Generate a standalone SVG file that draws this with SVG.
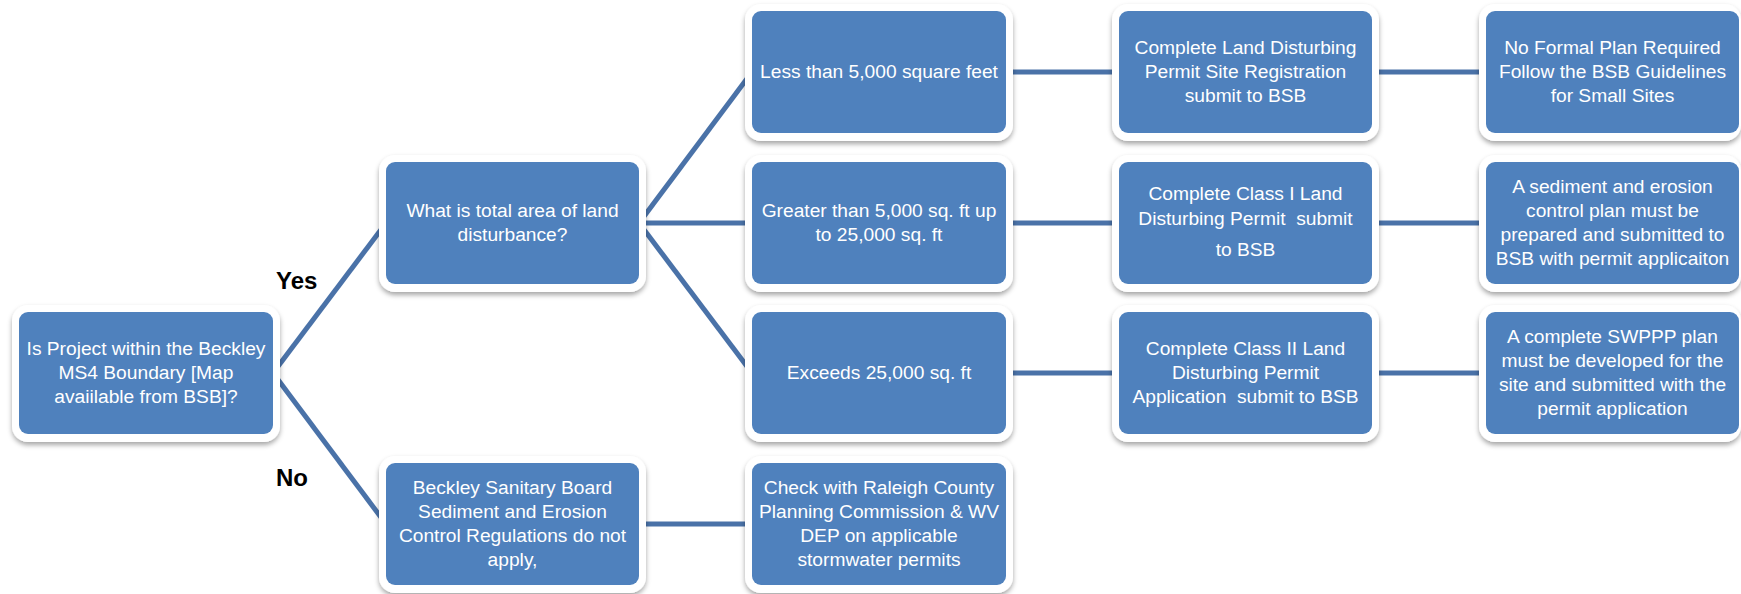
<svg xmlns="http://www.w3.org/2000/svg" width="1741" height="594" viewBox="0 0 1741 594">
<defs>
<filter id="sh" x="-10%" y="-15%" width="120%" height="135%">
<feDropShadow dx="0" dy="3" stdDeviation="2.5" flood-color="#000" flood-opacity="0.35"/>
</filter>
<style>
.frame{fill:#fff;filter:url(#sh);}
.box{fill:#4F81BD;}
.t{font-family:"Liberation Sans",Arial,sans-serif;font-size:19.2px;fill:#fff;text-anchor:middle;white-space:pre;}
.lbl{font-family:"Liberation Sans",Arial,sans-serif;font-size:24px;font-weight:bold;fill:#000;}
.c{stroke:#4A72A8;stroke-width:5;fill:none;}
</style>
</defs>
<rect width="1741" height="594" fill="#fff"/>
<g id="connectors">
<line class="c" x1="273" y1="373" x2="386" y2="223"/>
<line class="c" x1="273" y1="373" x2="386" y2="524"/>
<line class="c" x1="639" y1="223" x2="752" y2="72"/>
<line class="c" x1="639" y1="223" x2="752" y2="223"/>
<line class="c" x1="639" y1="223" x2="752" y2="373"/>
<line class="c" x1="1006" y1="72" x2="1119" y2="72"/>
<line class="c" x1="1372" y1="72" x2="1486" y2="72"/>
<line class="c" x1="1006" y1="223" x2="1119" y2="223"/>
<line class="c" x1="1372" y1="223" x2="1486" y2="223"/>
<line class="c" x1="1006" y1="373" x2="1119" y2="373"/>
<line class="c" x1="1372" y1="373" x2="1486" y2="373"/>
<line class="c" x1="639" y1="524" x2="752" y2="524"/>
</g>
<g id="labels">
<text class="lbl" x="276" y="289">Yes</text>
<text class="lbl" x="276" y="486">No</text>
</g>
<g id="n-start">
<rect class="frame" x="12" y="305" width="268" height="137" rx="16"/>
<rect class="box" x="19" y="312" width="254" height="122" rx="9"/>
<text class="t" x="146" y="355">Is Project within the Beckley</text>
<text class="t" x="146" y="379">MS4 Boundary [Map</text>
<text class="t" x="146" y="403">avaiilable from BSB]?</text>
</g>
<g id="n-area">
<rect class="frame" x="379" y="155" width="267" height="137" rx="16"/>
<rect class="box" x="386" y="162" width="253" height="122" rx="9"/>
<text class="t" x="512.5" y="217">What is total area of land</text>
<text class="t" x="512.5" y="241">disturbance?</text>
</g>
<g id="n-bsb-no">
<rect class="frame" x="379" y="456" width="267" height="137" rx="16"/>
<rect class="box" x="386" y="463" width="253" height="122" rx="9"/>
<text class="t" x="512.5" y="494">Beckley Sanitary Board</text>
<text class="t" x="512.5" y="518">Sediment and Erosion</text>
<text class="t" x="512.5" y="542">Control Regulations do not</text>
<text class="t" x="512.5" y="566">apply,</text>
</g>
<g id="n-less">
<rect class="frame" x="745" y="4" width="268" height="137" rx="16"/>
<rect class="box" x="752" y="11" width="254" height="122" rx="9"/>
<text class="t" x="879" y="78">Less than 5,000 square feet</text>
</g>
<g id="n-greater">
<rect class="frame" x="745" y="155" width="268" height="137" rx="16"/>
<rect class="box" x="752" y="162" width="254" height="122" rx="9"/>
<text class="t" x="879" y="217">Greater than 5,000 sq. ft up</text>
<text class="t" x="879" y="241">to 25,000 sq. ft</text>
</g>
<g id="n-exceeds">
<rect class="frame" x="745" y="305" width="268" height="137" rx="16"/>
<rect class="box" x="752" y="312" width="254" height="122" rx="9"/>
<text class="t" x="879" y="379">Exceeds 25,000 sq. ft</text>
</g>
<g id="n-check">
<rect class="frame" x="745" y="456" width="268" height="137" rx="16"/>
<rect class="box" x="752" y="463" width="254" height="122" rx="9"/>
<text class="t" x="879" y="494">Check with Raleigh County</text>
<text class="t" x="879" y="518">Planning Commission &amp; WV</text>
<text class="t" x="879" y="542">DEP on applicable</text>
<text class="t" x="879" y="566">stormwater permits</text>
</g>
<g id="n-reg">
<rect class="frame" x="1112" y="4" width="267" height="137" rx="16"/>
<rect class="box" x="1119" y="11" width="253" height="122" rx="9"/>
<text class="t" x="1245.5" y="54">Complete Land Disturbing</text>
<text class="t" x="1245.5" y="78">Permit Site Registration</text>
<text class="t" x="1245.5" y="102">submit to BSB</text>
</g>
<g id="n-class1">
<rect class="frame" x="1112" y="155" width="267" height="137" rx="16"/>
<rect class="box" x="1119" y="162" width="253" height="122" rx="9"/>
<text class="t" x="1245.5" y="200">Complete Class I Land</text>
<text class="t" x="1245.5" y="225">Disturbing Permit  submit</text>
<text class="t" x="1245.5" y="256">to BSB</text>
</g>
<g id="n-class2">
<rect class="frame" x="1112" y="305" width="267" height="137" rx="16"/>
<rect class="box" x="1119" y="312" width="253" height="122" rx="9"/>
<text class="t" x="1245.5" y="355">Complete Class II Land</text>
<text class="t" x="1245.5" y="379">Disturbing Permit</text>
<text class="t" x="1245.5" y="403">Application  submit to BSB</text>
</g>
<g id="n-noplan">
<rect class="frame" x="1479" y="4" width="262" height="137" rx="16"/>
<rect class="box" x="1486" y="11" width="253" height="122" rx="9"/>
<text class="t" x="1612.5" y="54">No Formal Plan Required</text>
<text class="t" x="1612.5" y="78">Follow the BSB Guidelines</text>
<text class="t" x="1612.5" y="102">for Small Sites</text>
</g>
<g id="n-sediment">
<rect class="frame" x="1479" y="155" width="262" height="137" rx="16"/>
<rect class="box" x="1486" y="162" width="253" height="122" rx="9"/>
<text class="t" x="1612.5" y="193">A sediment and erosion</text>
<text class="t" x="1612.5" y="217">control plan must be</text>
<text class="t" x="1612.5" y="241">prepared and submitted to</text>
<text class="t" x="1612.5" y="265">BSB with permit applicaiton</text>
</g>
<g id="n-swppp">
<rect class="frame" x="1479" y="305" width="262" height="137" rx="16"/>
<rect class="box" x="1486" y="312" width="253" height="122" rx="9"/>
<text class="t" x="1612.5" y="343">A complete SWPPP plan</text>
<text class="t" x="1612.5" y="367">must be developed for the</text>
<text class="t" x="1612.5" y="391">site and submitted with the</text>
<text class="t" x="1612.5" y="415">permit application</text>
</g>
</svg>
